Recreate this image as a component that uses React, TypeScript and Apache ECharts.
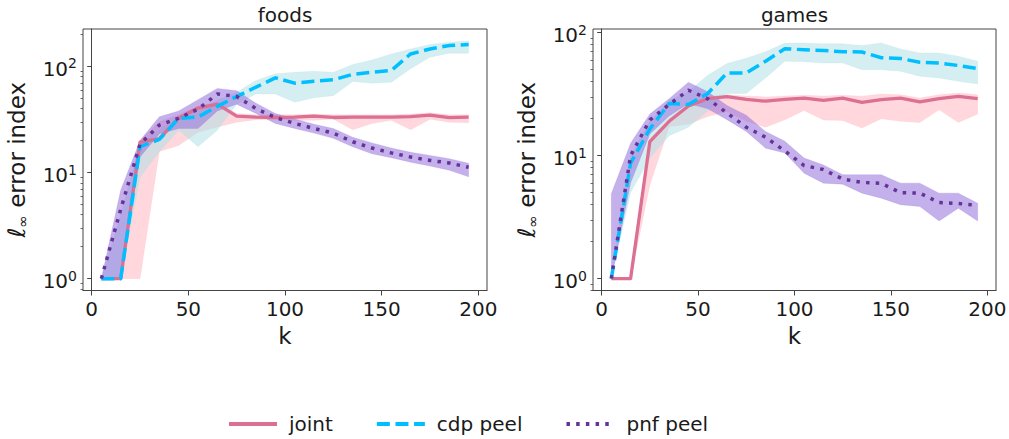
import React, { useEffect, useRef } from "react";
import * as echarts from "echarts";

// ---------- data ----------
const K = [5, 15, 25, 35, 45, 55, 65, 75, 85, 95, 105, 115, 125, 135, 145, 155, 165, 175, 185, 195];
const X_TICKS = [0, 50, 100, 150, 200];
const Y_MAJOR = [1, 10, 100];
const Y_MINOR = [0.8, 0.9, 2, 3, 4, 5, 6, 7, 8, 9, 20, 30, 40, 50, 60, 70, 80, 90, 200];
const LEGEND_NAMES = ["joint", "cdp peel", "pnf peel"];
const PANEL_TITLES = ["foods", "games"];

// foods
const foodsJoint = [1, 1, 19.3, 20.8, 32.5, 40.5, 44, 34, 33.2, 33, 33.2, 34, 33, 33.2, 33.2, 33.2, 33.6, 34.8, 32.9, 33.2];
const foodsJointLo = [1, 1, 1, 15.8, 18, 24, 26.8, 29.8, 31.4, 32, 31, 31, 32, 25.3, 28.9, 31, 25.3, 31.7, 29.8, 29.4];
const foodsJointHi = [1, 1, 20, 30, 35, 42, 46, 36, 35, 35, 35, 35.5, 35, 35, 35, 35, 35.5, 36.5, 35, 35];
const foodsCdp = [1, 1, 17.5, 20.5, 32.3, 33.3, 42, 52, 63.7, 78, 69.5, 72.6, 74.7, 84, 88, 91.5, 131, 146, 157, 161];
const foodsCdpLo = [1, 1, 9, 15.7, 25, 17.5, 25, 44, 55, 55, 46, 50.5, 53, 72, 69.5, 71, 95, 122, 133, 133];
const foodsCdpHi = [1, 4, 19, 25, 34, 38, 48, 57, 73.6, 85, 88, 90, 88, 104, 115, 131, 146, 161, 169, 173];
const foodsPnf = [1, 4.5, 18.5, 28, 32.5, 39.5, 55, 52, 40, 33, 29, 26, 23.5, 19.5, 17, 15.3, 14, 13, 12.3, 11.2];
const foodsPnfLo = [1, 1, 14, 23, 26, 26, 38, 44, 36, 29, 26, 23.5, 21, 17.5, 15, 13.8, 12.5, 11.5, 10.5, 9.1];
const foodsPnfHi = [1, 6.8, 20, 33.5, 38, 48.5, 62, 59, 45, 36, 32, 28.5, 26, 21.5, 19, 17, 15.5, 14.5, 13.5, 12.2];

// games
const gamesJoint = [1, 1, 13, 19, 25.3, 29, 30.2, 28.6, 27.7, 28.6, 29.3, 28.1, 29.3, 27.1, 28.5, 29.3, 27.4, 29, 30.3, 29];
const gamesJointLo = [1, 1, 5.8, 17.2, 18, 20.8, 22.8, 19, 17, 19.6, 23.3, 19.5, 19.3, 16.8, 19.9, 19, 18.6, 23.6, 18.6, 21.8];
const gamesJointHi = [1, 1, 13.8, 20, 26.5, 30.5, 31.3, 30.5, 30, 30.5, 31, 30.5, 31, 30.4, 31.7, 31.3, 29.4, 31.3, 32.3, 31.3];
const gamesCdp = [1, 8.7, 16.5, 26.5, 26, 32, 47, 47, 58.5, 74, 72.5, 71.5, 70, 69.5, 62.5, 61.5, 57.5, 56.5, 54, 51];
const gamesCdpLo = [1, 5, 9.5, 14.5, 17, 23, 32, 32, 42.8, 58.5, 58, 56.6, 56.6, 50, 50, 48.5, 44.2, 42.8, 40.2, 38.2];
const gamesCdpHi = [1, 10, 19, 28, 33, 45, 56, 62, 70, 82.4, 82.4, 81, 81, 78.5, 82.4, 73.5, 68.4, 68.4, 64.3, 58.5];
const gamesPnf = [1, 10, 19.5, 26, 34, 29, 22.2, 17, 14.1, 10.9, 8.3, 7.7, 6.45, 6.05, 5.95, 5.0, 4.95, 4.15, 4.08, 3.93];
const gamesPnfLo = [1, 6, 15, 21, 26.5, 24, 19.6, 15.7, 11.5, 10.5, 7.2, 5.97, 5.86, 4.95, 4.51, 3.98, 3.86, 2.94, 3.74, 2.94];
const gamesPnfHi = [4.9, 12.6, 21.8, 29, 39.5, 33, 25.5, 21.3, 15.7, 13.1, 9.55, 8.4, 7.0, 7.0, 7.0, 5.97, 5.97, 4.95, 4.95, 4.1];

// ---------- styles ----------
const FONT = "DejaVu Sans";
const TEXT = "#1a1a1a";
const FRAME = "#444";
const JOINT_COLOR = "#db7093";
const JOINT_BAND = "#ffb6c1";
const CDP_COLOR = "#00bfff";
const CDP_BAND = "#b0e0e6";
const PNF_COLOR = "#663399";
const PNF_BAND = "#9370db";

const PANELS = [
  {
    left: 83, width: 404, yMin: 0.773, yMax: 225,
    joint: [foodsJoint, foodsJointLo, foodsJointHi],
    cdp: [foodsCdp, foodsCdpLo, foodsCdpHi],
    pnf: [foodsPnf, foodsPnfLo, foodsPnfHi],
  },
  {
    left: 593, width: 403, yMin: 0.8, yMax: 107,
    joint: [gamesJoint, gamesJointLo, gamesJointHi],
    cdp: [gamesCdp, gamesCdpLo, gamesCdpHi],
    pnf: [gamesPnf, gamesPnfLo, gamesPnfHi],
  },
];

function band(gi: number, lo: number[], hi: number[], color: string, opacity: number) {
  return {
    type: "custom", xAxisIndex: gi, yAxisIndex: gi * 2, silent: true, z: 1,
    data: K.map((k, i) => [k, lo[i], hi[i]]),
    encode: { x: 0, y: [1, 2] },
    renderItem: (params: any, api: any) => {
      if (params.dataIndex !== 0) return { type: "group", children: [] };
      const upper = K.map((k, i) => api.coord([k, hi[i]]));
      const lower = K.map((k, i) => api.coord([k, lo[i]])).reverse();
      return {
        type: "polygon", silent: true,
        shape: { points: upper.concat(lower) },
        style: { fill: color, opacity, stroke: color, lineWidth: 0.6, strokeOpacity: 0.6 },
      };
    },
  };
}

function line(name: string, gi: number, vals: number[], color: string, width: number, type: any) {
  return {
    type: "line", name, xAxisIndex: gi, yAxisIndex: gi * 2, symbol: "none", z: 3, silent: true,
    data: K.map((k, i) => [k, vals[i]]),
    lineStyle: { color, width, type, cap: "butt", join: "round" },
    itemStyle: { color },
  };
}

export default function App() {
  const ref = useRef<HTMLDivElement>(null);
  useEffect(() => {
    if (!ref.current) return;
    const chart = echarts.init(ref.current, null, { renderer: "svg" });
    const grids: any[] = [];
    const xAxes: any[] = [];
    const yAxes: any[] = [];
    const series: any[] = [];
    const graphics: any[] = [];

    PANELS.forEach((p, gi) => {
      grids.push({
        left: p.left, top: 29, width: p.width, height: 261.5, show: true,
        borderColor: FRAME, borderWidth: 1, backgroundColor: "transparent",
        containLabel: false, outerBoundsMode: "none",
      });
      xAxes.push({
        type: "value", gridIndex: gi, min: -4.5, max: 204.5,
        name: "k", nameLocation: "middle", nameGap: 34,
        nameTextStyle: { fontSize: 23, fontFamily: FONT, color: TEXT },
        axisLine: { show: true, lineStyle: { color: FRAME, width: 1 } },
        axisTick: { show: true, length: 5, customValues: X_TICKS, lineStyle: { color: FRAME } },
        axisLabel: { customValues: X_TICKS, fontSize: 20, fontFamily: FONT, color: TEXT, margin: 8 },
        splitLine: { show: false },
      });
      yAxes.push({
        type: "log", logBase: 10, gridIndex: gi, min: p.yMin, max: p.yMax,
        name: "{a|ℓ}{b|∞}{c| error index}", nameLocation: "middle", nameRotate: 90, nameGap: 53,
        nameTextStyle: {
          fontSize: 23, fontFamily: FONT, color: TEXT,
          rich: {
            a: { fontSize: 24, fontStyle: "italic", fontFamily: FONT, color: TEXT, lineHeight: 27 },
            b: { fontSize: 15, fontFamily: FONT, color: TEXT, lineHeight: 14, verticalAlign: "bottom" },
            c: { fontSize: 23, fontFamily: FONT, color: TEXT, lineHeight: 27 },
          },
        },
        axisLine: { show: true, lineStyle: { color: FRAME, width: 1 } },
        axisTick: { show: true, length: 4.5, customValues: Y_MAJOR, lineStyle: { color: FRAME } },
        axisLabel: {
          customValues: Y_MAJOR, margin: 6, color: TEXT, fontFamily: FONT,
          formatter: (v: number) => "{b|10}{s|" + Math.round(Math.log10(v)) + "}",
          rich: {
            b: { fontSize: 20, fontFamily: FONT, color: TEXT, lineHeight: 20, padding: [5, 0, 0, 0] },
            s: { fontSize: 14, fontFamily: FONT, color: TEXT, lineHeight: 14, verticalAlign: "top" },
          },
        },
        splitLine: { show: false },
      });
      yAxes.push({
        type: "log", logBase: 10, gridIndex: gi, min: p.yMin, max: p.yMax, position: "left",
        axisLine: { show: false },
        axisTick: { show: true, length: 2.5, customValues: Y_MINOR, lineStyle: { color: FRAME, width: 0.8 } },
        axisLabel: { show: false },
        splitLine: { show: false },
      });

      series.push(band(gi, p.joint[1], p.joint[2], JOINT_BAND, 0.55));
      series.push(band(gi, p.cdp[1], p.cdp[2], CDP_BAND, 0.55));
      series.push(band(gi, p.pnf[1], p.pnf[2], PNF_BAND, 0.55));
      series.push(line(LEGEND_NAMES[0], gi, p.joint[0], JOINT_COLOR, 3.3, "solid"));
      series.push(line(LEGEND_NAMES[1], gi, p.cdp[0], CDP_COLOR, 3.5, [13, 5.6]));
      series.push(line(LEGEND_NAMES[2], gi, p.pnf[0], PNF_COLOR, 3.5, [3.5, 6.2]));

      graphics.push({
        type: "text", x: p.left + p.width / 2, y: 15, silent: true,
        style: { text: PANEL_TITLES[gi], fontSize: 20, fontFamily: FONT, fill: TEXT, align: "center", verticalAlign: "middle" },
      });
    });

    chart.setOption({
      animation: false,
      backgroundColor: "#ffffff",
      textStyle: { fontFamily: FONT },
      grid: grids,
      xAxis: xAxes,
      yAxis: yAxes,
      series,
      graphic: graphics,
      legend: {
        data: LEGEND_NAMES,
        left: 222, top: 409, orient: "horizontal",
        itemWidth: 48, itemHeight: 14, itemGap: 42,
        itemStyle: { opacity: 0, borderWidth: 0 },
        lineStyle: { width: 4 },
        textStyle: { fontSize: 20, fontFamily: FONT, color: TEXT, padding: [0, 0, 0, 7] },
        selectedMode: false,
      },
    });
    return () => chart.dispose();
  }, []);
  return <div ref={ref} style={{ position: "fixed", left: 0, top: 0, width: 1009, height: 439 }} />;
}
